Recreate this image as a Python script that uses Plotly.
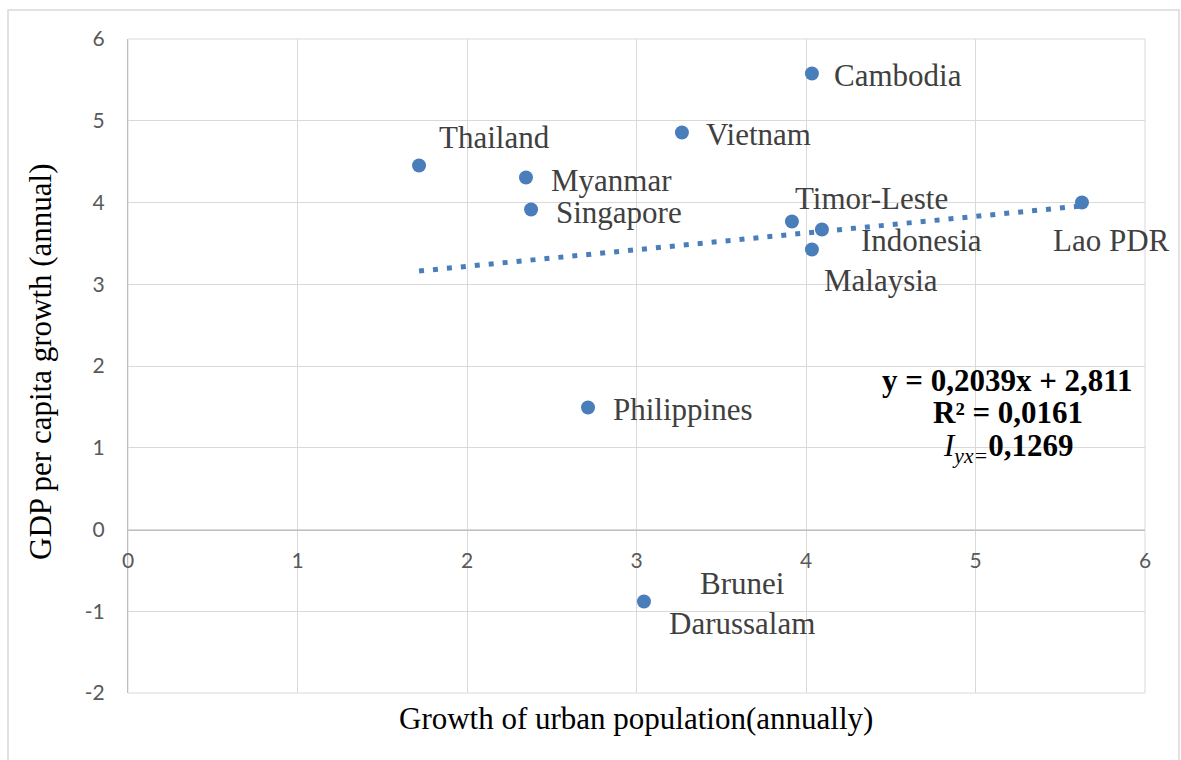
import plotly.graph_objects as go

# ---- data ----
countries = ["Cambodia", "Vietnam", "Thailand", "Myanmar", "Singapore",
             "Timor-Leste", "Indonesia", "Malaysia", "Lao PDR",
             "Philippines", "Brunei<br>Darussalam"]
urban_growth = [4.035, 3.268, 1.717, 2.348, 2.378, 3.917, 4.094, 4.035, 5.628, 2.714, 3.044]
gdp_growth = [5.578, 4.856, 4.453, 4.306, 3.914, 3.768, 3.670, 3.425, 4.000, 1.492, -0.881]
trend_slope = 0.2039
trend_intercept = 2.811
x_ticks = [0, 1, 2, 3, 4, 5, 6]
x_tick_labels = ["0", "1", "2", "3", "4", "5", "6"]
y_ticks = [-2, -1, 0, 1, 2, 3, 4, 5, 6]
y_tick_labels = ["-2", "-1", "0", "1", "2", "3", "4", "5", "6"]

# label offsets in pixels (xshift, yshift, anchor)
label_offsets = {
    "Cambodia": (20, -2, "left"),
    "Vietnam": (22, -2, "left"),
    "Thailand": (18, 28, "left"),
    "Myanmar": (23, -3, "left"),
    "Singapore": (23, -3, "left"),
    "Timor-Leste": (1, 23, "left"),
    "Indonesia": (37, -11, "left"),
    "Malaysia": (10, -31, "left"),
    "Lao PDR": (-31, -38, "left"),
    "Philippines": (23, -2, "left"),
    "Brunei<br>Darussalam": (98, -2, "center"),
}

W, H = 1181, 760
L, R, T, B = 128, 36, 39, 67
PW, PH = W - L - R, H - T - B

def px(xp):
    return (xp - L) / PW

def py(yp):
    return (H - B - yp) / PH

blue = "#4a7ebb"
serif = "Liberation Serif"
grid = "#d9d9d9"

fig = go.Figure()

xmin, xmax = min(urban_growth), max(urban_growth)
fig.add_trace(go.Scatter(
    x=[xmin, xmax],
    y=[trend_slope * xmin + trend_intercept, trend_slope * xmax + trend_intercept],
    mode="lines", line=dict(color=blue, width=5, dash="5px,9px"),
    hoverinfo="skip", showlegend=False))

fig.add_trace(go.Scatter(
    x=urban_growth, y=gdp_growth, mode="markers",
    marker=dict(color=blue, size=14, line=dict(width=0)),
    text=countries, showlegend=False))

annotations = []
for c, xv, yv in zip(countries, urban_growth, gdp_growth):
    dx, dy, anc = label_offsets[c]
    annotations.append(dict(
        x=xv, y=yv, xref="x", yref="y", text=c, showarrow=False,
        xanchor=anc, yanchor="middle", xshift=dx, yshift=dy, align="center",
        font=dict(family=serif, size=31, color="#404040")))

eq_lines = [
    ("<b>y = 0,2039x + 2,811</b>", 380),
    ("<b>R² = 0,0161</b>", 412),
    ("<i>I</i><sub><i>yx=</i></sub><b>0,1269</b>", 448),
]
for txt, yp in eq_lines:
    annotations.append(dict(
        x=px(1007.5), y=py(yp), xref="paper", yref="paper", text=txt,
        showarrow=False, xanchor="center", yanchor="middle",
        font=dict(family=serif, size=31, color="black")))

annotations.append(dict(
    x=px(636), y=py(719), xref="paper", yref="paper",
    text="Growth of urban population(annually)", showarrow=False,
    xanchor="center", yanchor="middle",
    font=dict(family=serif, size=31, color="black")))
annotations.append(dict(
    x=px(40), y=py(362), xref="paper", yref="paper",
    text="GDP per capita growth (annual)", showarrow=False, textangle=-90,
    xanchor="center", yanchor="middle",
    font=dict(family=serif, size=31, color="black")))

fig.update_layout(
    width=W, height=H,
    margin=dict(l=L, r=R, t=T, b=B),
    paper_bgcolor="white", plot_bgcolor="white",
    annotations=annotations,
    shapes=[
        dict(type="rect", xref="paper", yref="paper",
             x0=px(8), x1=px(1179), y0=py(775), y1=py(10),
             line=dict(color=grid, width=1.5), layer="below"),
        dict(type="rect", xref="paper", yref="paper",
             x0=0, x1=1, y0=0, y1=1,
             line=dict(color=grid, width=1), layer="below"),
    ],
    xaxis=dict(range=[0, 6], tickvals=x_ticks, ticktext=x_tick_labels,
               showgrid=True, gridcolor=grid,
               gridwidth=1, zeroline=False, showline=True, linecolor="#bfbfbf",
               linewidth=1, anchor="free", position=2 / 8, ticks="",
               ticklabelstandoff=12,
               tickfont=dict(family="Lato", size=21, color="#595959")),
    yaxis=dict(range=[-2, 6], tickvals=y_ticks, ticktext=y_tick_labels,
               showgrid=True, gridcolor=grid,
               gridwidth=1, zeroline=False, showline=True, linecolor="#bfbfbf",
               linewidth=1, ticks="", ticklabelstandoff=18,
               tickfont=dict(family="Lato", size=21, color="#595959")),
)

fig.write_html("out.html", config={"displayModeBar": False},
               post_script="document.body.style.margin='0';")
